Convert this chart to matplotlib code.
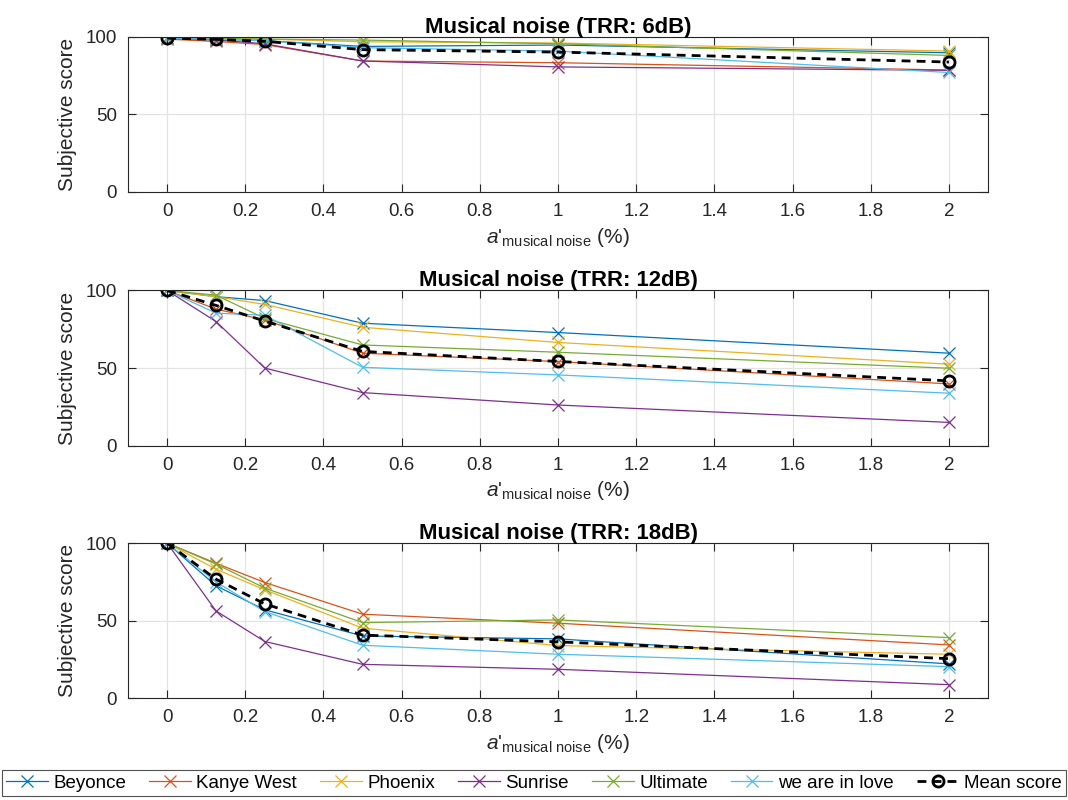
import matplotlib
matplotlib.use("Agg")
import matplotlib.pyplot as plt
import numpy as np

plt.rcParams['font.family'] = ['Liberation Sans', 'DejaVu Sans']
plt.rcParams['mathtext.fontset'] = 'custom'
plt.rcParams['mathtext.rm'] = 'Liberation Sans'
plt.rcParams['mathtext.it'] = 'Liberation Sans:italic'

# musical noise amount (%)
a_values = [0, 0.125, 0.25, 0.5, 1, 2]

songs = ['Beyonce', 'Kanye West', 'Phoenix', 'Sunrise', 'Ultimate', 'we are in love']
colors = ['#0072BD', '#D95319', '#EDB120', '#7E2F8E', '#77AC30', '#4DBEEE']

trr_levels = ['6dB', '12dB', '18dB']

# subjective scores, one row per song
scores_6db = [
    [99.5, 98.5, 97.5, 93.8, 94.7, 89.7],
    [98.5, 97.0, 95.0, 84.4, 83.3, 78.6],
    [99.5, 99.0, 98.5, 96.8, 96.0, 90.8],
    [99.0, 98.0, 95.5, 84.4, 80.6, 78.4],
    [99.5, 99.0, 98.5, 97.9, 95.5, 88.0],
    [99.0, 98.5, 97.5, 93.0, 90.8, 77.0],
]
scores_12db = [
    [100, 96.0, 93.5, 78.9, 72.9, 59.6],
    [100, 88.0, 81.0, 59.6, 54.2, 39.8],
    [100, 96.0, 91.0, 76.3, 66.5, 52.5],
    [100, 80.0, 50.0, 34.2, 26.2, 15.0],
    [100, 97.0, 82.0, 64.9, 60.2, 49.9],
    [100, 85.4, 84.0, 50.5, 45.6, 33.8],
]
scores_18db = [
    [100, 72.5, 57.0, 40.2, 38.3, 22.2],
    [100, 87.0, 74.6, 54.2, 48.4, 34.4],
    [100, 83.2, 69.9, 45.2, 34.0, 28.4],
    [100, 56.3, 36.6, 21.9, 18.7, 8.8],
    [100, 86.5, 71.0, 48.8, 50.5, 39.1],
    [100, 75.0, 55.9, 34.2, 28.4, 20.4],
]
all_scores = [scores_6db, scores_12db, scores_18db]

fig = plt.figure(figsize=(10.68, 8.0), dpi=100)

ax_bottoms = [0.760, 0.4429, 0.1271]
ax_left, ax_width, ax_height = 0.1199, 0.8052, 0.1940

axes_col = '#262626'
for k in range(3):
    ax = fig.add_axes([ax_left, ax_bottoms[k], ax_width, ax_height])
    sc = np.array(all_scores[k])
    for i in range(len(songs)):
        ax.plot(a_values, sc[i], color=colors[i], marker='x', lw=0.9,
                markersize=8, markeredgewidth=0.9, label=songs[i])
    mean_score = sc.mean(axis=0)
    ax.plot(a_values, mean_score, color='black', ls=(0, (3.2, 2.2)), lw=2.0,
            marker='o', markersize=8, markerfacecolor='none',
            markeredgewidth=2.0, label='Mean score')

    ax.set_xlim(-0.1, 2.1)
    ax.set_ylim(0, 100)
    ax.set_xticks(np.arange(0, 2.01, 0.2))
    ax.set_xticklabels(['0', '0.2', '0.4', '0.6', '0.8', '1', '1.2', '1.4', '1.6', '1.8', '2'])
    ax.set_yticks([0, 50, 100])
    ax.grid(True, color='#e3e3e3', lw=0.9)
    ax.set_axisbelow(True)
    ax.tick_params(direction='in', top=True, right=True, length=6, width=0.8,
                   colors=axes_col, labelsize=13.5, labelcolor=axes_col, pad=8)
    for sp in ax.spines.values():
        sp.set_color(axes_col)
        sp.set_linewidth(0.8)
    ax.set_title('Musical noise (TRR: ' + trr_levels[k] + ')', fontsize=15.9,
                 fontweight='bold', pad=3)
    ax.set_ylabel('Subjective score', fontsize=15, color=axes_col, labelpad=6)
    ax.set_xlabel(r"$a$'$_{\mathrm{musical\ noise}}$ (%)", fontsize=15,
                  color=axes_col, labelpad=4)

handles, labels = ax.get_legend_handles_labels()
leg = fig.legend(handles, labels, loc='lower center', bbox_to_anchor=(0.5, 0.0),
                 ncol=7, fontsize=13.5, frameon=True, fancybox=False,
                 edgecolor=axes_col, handlelength=2.2, handletextpad=0.3,
                 columnspacing=1.25, borderpad=0.25, borderaxespad=0.2)
leg.get_frame().set_linewidth(0.8)

fig.savefig('out.png', dpi=100)
